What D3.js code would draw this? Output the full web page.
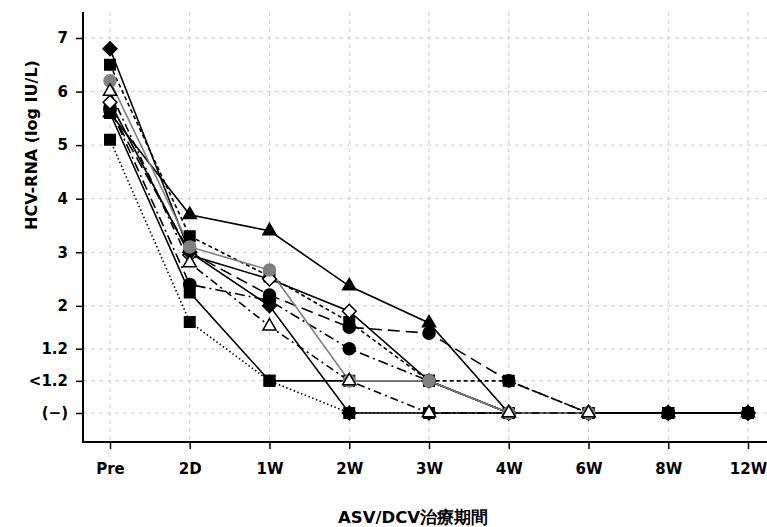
<!DOCTYPE html>
<html>
<head>
<meta charset="utf-8">
<script src="https://cdn.jsdelivr.net/npm/d3@7"></script>
<style>
  body { margin: 0; background: #fff; }
  text { font-family: "DejaVu Sans", Verdana, sans-serif; font-weight: bold; fill: #000; }
</style>
</head>
<body>
<script>
// -------------------- DATA --------------------
var times = ["Pre", "2D", "1W", "2W", "3W", "4W", "6W", "8W", "12W"];
var yTickValues = [7, 6, 5, 4, 3, 2, 1.2, 0.6, 0];
var yTickLabels = ["7", "6", "5", "4", "3", "2", "1.2", "<1.2", "(\u2212)"];

// one array per patient (log IU/L; <1.2 plotted at 0.6, (-) at 0, null = not measured)
var p1  = [5.6, 3.7, 3.4, 2.37, 1.68, 0, 0, 0, 0];
var p2  = [6.5, 3.3, 2.55, 1.7, 0.6, 0.6, 0, 0, 0];
var p3  = [6.2, 3.1, 2.67, 0.6, 0.6, 0, 0, null, null];
var p4  = [5.8, 2.95, 2.5, 1.9, 0.6, 0, 0, 0, 0];
var p5  = [6.0, 2.8, 1.62, 0.6, 0, 0, 0, null, null];
var p6  = [5.65, 3.0, 2.2, 1.6, 1.49, 0.6, 0, 0, 0];
var p7  = [5.7, 2.4, 2.1, 1.2, 0.6, 0, 0, 0, 0];
var p8  = [5.1, 1.7, 0.6, 0, 0, 0, 0, 0, 0];
var p9  = [5.6, 2.25, 0.6, 0.6, 0.6, 0, 0, 0, 0];
var p10 = [6.8, 3.0, 2.0, 0, 0, 0, 0, 0, 0];

// style for each patient, listed in drawing order (last one is on top)
var series = [
  { v: p6,  sym: "circ", fill: "#000", line: "#000", dash: "12,6" },
  { v: p7,  sym: "circ", fill: "#000", line: "#000", dash: "10,4,2,4" },
  { v: p9,  sym: "sq",   fill: "#000", line: "#000", dash: null },
  { v: p1,  sym: "tri",  fill: "#000", line: "#000", dash: null },
  { v: p2,  sym: "sq",   fill: "#000", line: "#000", dash: "4,3" },
  { v: p4,  sym: "dia",  fill: "#fff", line: "#000", dash: null },
  { v: p10, sym: "dia",  fill: "#000", line: "#000", dash: null },
  { v: p8,  sym: "sq",   fill: "#000", line: "#000", dash: "1.5,2.5" },
  { v: p3,  sym: "circ", fill: "#808080", line: "#808080", dash: null },
  { v: p5,  sym: "tri",  fill: "#fff", line: "#000", dash: "8,4,2,4" }
];

// -------------------- DIMENSIONS --------------------
var w = 767, h = 527;
var axisX = 83, axisY = 442, topY = 12;

var x = d3.scalePoint().domain(times).range([110, 748]);
var y = d3.scaleLinear().domain([0, 7]).range([413, 38]);

var svg = d3.select("body").append("svg")
  .attr("width", w)
  .attr("height", h);

// -------------------- GRID --------------------
svg.append("g").selectAll("line")
  .data(times).enter().append("line")
  .attr("x1", function(d){ return x(d); })
  .attr("x2", function(d){ return x(d); })
  .attr("y1", topY).attr("y2", axisY)
  .attr("stroke", "#cfcfcf").attr("stroke-width", 1)
  .attr("stroke-dasharray", "4,4");

svg.append("g").selectAll("line")
  .data(yTickValues).enter().append("line")
  .attr("x1", axisX).attr("x2", w)
  .attr("y1", function(d){ return y(d); })
  .attr("y2", function(d){ return y(d); })
  .attr("stroke", "#cfcfcf").attr("stroke-width", 1)
  .attr("stroke-dasharray", "4,4");

// -------------------- AXES --------------------
var yAxis = d3.axisLeft(y)
  .tickValues(yTickValues)
  .tickFormat(function(d, i){ return yTickLabels[i]; })
  .tickSize(7).tickPadding(8);

var gy = svg.append("g")
  .attr("transform", "translate(" + axisX + ",0)")
  .call(yAxis);
gy.select(".domain").remove();
gy.selectAll("text").style("font-size", "15px");
gy.selectAll("line").attr("stroke-width", 1.5);

var xAxis = d3.axisBottom(x).tickSize(7).tickPadding(14);
var gx = svg.append("g")
  .attr("transform", "translate(0," + axisY + ")")
  .call(xAxis);
gx.select(".domain").remove();
gx.selectAll("text").style("font-size", "15px");
gx.selectAll("line").attr("stroke-width", 1.5);

// axis lines
svg.append("line")
  .attr("x1", axisX).attr("x2", axisX)
  .attr("y1", topY).attr("y2", axisY + 1)
  .attr("stroke", "#000").attr("stroke-width", 2);
svg.append("line")
  .attr("x1", axisX).attr("x2", w)
  .attr("y1", axisY).attr("y2", axisY)
  .attr("stroke", "#000").attr("stroke-width", 2);

// titles
svg.append("text")
  .attr("transform", "translate(37,145) rotate(-90)")
  .attr("text-anchor", "middle")
  .style("font-size", "16px")
  .text("HCV-RNA (log IU/L)");

svg.append("text")
  .attr("x", 413).attr("y", 523)
  .attr("text-anchor", "middle")
  .style("font-size", "16.5px")
  .text("ASV/DCV治療期間");

// -------------------- LINES --------------------
var line = d3.line()
  .defined(function(d){ return d !== null; })
  .x(function(d, i){ return x(times[i]); })
  .y(function(d){ return y(d); });

svg.append("g").selectAll("path")
  .data(series).enter().append("path")
  .attr("d", function(s){ return line(s.v); })
  .attr("fill", "none")
  .attr("stroke", function(s){ return s.line; })
  .attr("stroke-width", 1.6)
  .attr("stroke-dasharray", function(s){ return s.dash; });

// -------------------- MARKERS --------------------
var symbols = {
  tri:  { type: d3.symbolTriangle, size: 75, rot: 0 },
  sq:   { type: d3.symbolSquare,   size: 110, rot: 0 },
  circ: { type: d3.symbolCircle,   size: 115, rot: 0 },
  dia:  { type: d3.symbolSquare,   size: 95, rot: 45 }
};

var gm = svg.append("g");
series.forEach(function(s){
  var sym = symbols[s.sym];
  gm.selectAll(null)
    .data(s.v.map(function(d, i){ return { t: times[i], v: d }; })
      .filter(function(d){ return d.v !== null; }))
    .enter().append("path")
    .attr("transform", function(d){
      return "translate(" + x(d.t) + "," + y(d.v) + ") rotate(" + sym.rot + ")";
    })
    .attr("d", d3.symbol().type(sym.type).size(sym.size))
    .attr("fill", s.fill)
    .attr("stroke", s.fill === "#808080" ? "#808080" : "#000")
    .attr("stroke-width", 1.5);
});
</script>
</body>
</html>
